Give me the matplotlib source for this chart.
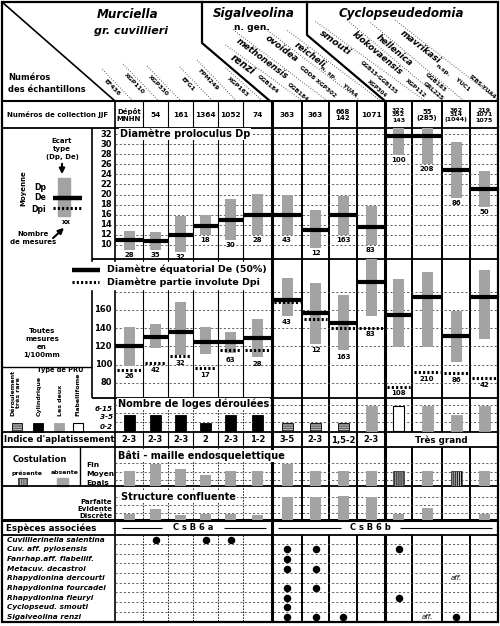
import matplotlib
matplotlib.use('Agg')
import matplotlib.pyplot as plt
from matplotlib.patches import Rectangle
import numpy as np

plt.rcParams['font.family'] = 'DejaVu Sans'
plt.rcParams['hatch.linewidth'] = 0.7

# ---------------- data ----------------
collections = ['Dépôt\nMNHN', '54', '161', '1364', '1052', '74', '363', '363',
               '668\n142', '1071', '322\n352\n143', '55\n(285)', '362\n314\n(1044)',
               '219\n1071\n1075']

# diamètre proloculus Dp (1/100 mm): moyenne, écart type, nombre de mesures
dp_mean = [10.9, 10.8, 12.0, 13.8, 15.0, 16.0, 16.0, 13.0, 16.0, 13.6, 31.6, 31.6, 24.9, 21.1]
dp_lo = [9.0, 9.0, 8.7, 12.0, 11.0, 12.0, 12.0, 9.4, 12.0, 10.0, 27.8, 26.0, 19.3, 17.5]
dp_hi = [12.7, 12.5, 15.8, 15.9, 19.1, 20.1, 19.9, 16.9, 19.7, 17.8, 34.0, 34.0, 30.4, 24.6]
dp_n = [28, 35, 32, 18, 30, 28, 43, 12, 163, 83, 100, 208, 86, 50]

# diamètre équatorial De et partie involute Dpi
de_mean = [120.3, 129.9, 136.0, 125.0, 125.0, 128.8, 170.9, 156.3, 145.3, 191.0, 154.4, 173.8, 131.3, 174.5]
de_lo = [98.4, 117.8, 110.4, 111.5, 112.3, 107.9, 153.3, 122.5, 115.9, 153.3, 118.9, 119.6, 102.4, 128.0]
de_hi = [141.2, 144.5, 168.4, 140.9, 136.0, 150.0, 195.4, 189.2, 176.4, 220.0, 193.6, 201.3, 159.1, 203.8]
dpi = [94.0, 101.3, 109.3, 95.8, 115.9, 115.9, 168.4, 149.7, 140.4, 140.4, 75.6, 91.4, 90.3, 84.8]
de_n = [26, 42, 32, 17, 63, 28, 43, 12, 163, 83, 108, 210, 86, 42]

# nombre de loges déroulées (1: 0-2, 2: 3-5, 3: 6-15) et type de PRU
loges_level = [2, 2, 2, 1, 2, 2, 1, 1, 1, 3, 3, 3, 2, 3]
pru_type = ['Cylindrique'] * 6 + ['Déroulement très rare'] * 3 + \
           ['Les deux', 'Flabelliforme', 'Les deux', 'Les deux', 'Les deux']

aplatissement = ['2-3', '2-3', '2-3', '2', '2-3', '1-2', '3-5', '2-3', '1,5-2', '2-3',
                 'Très grand', 'Très grand', 'Très grand', 'Très grand']

# bâti - maille endosquelettique (épaisseur) et costulation
bati = [2.0, 2.9, 2.3, 1.5, 2.0, 2.0, 2.9, 2.0, 2.0, 2.0, 2.0, 2.0, 2.0, 2.0]
costulation = ['absente'] * 10 + ['présente', 'absente', 'présente', 'absente']

# structure confluente
structure = [1.0, 1.8, 0.9, 1.0, 1.0, 0.9, 3.8, 3.8, 4.0, 3.8, 1.0, 2.0, 0.0, 1.0]

species = ['Cuvillierinella salentina', 'Cuv. aff. pylosensis', 'Fanrhap.aff. flabellif.',
           'Metacuv. decastroi', 'Rhapydionina dercourti', 'Rhapydionina fourcadei',
           'Rhapydionina fleuryi', 'Cyclopseud. smouti', 'Sigalveolina renzi']
presence = [[1, 3, 4], [6, 7, 10], [6], [6, 7], [], [6, 7], [6, 10], [6], [6, 7, 8, 12]]
affinis = [(4, 12), (8, 11)]

# ---------------- layout ----------------
W, H = 500, 626
edges = [115, 143, 168, 193, 218, 243, 272, 302, 329, 357, 385, 412, 442, 470, 498]
centers = [(a + b) / 2 for a, b in zip(edges[:-1], edges[1:])]
GRAY = '#a3a3a3'
BW = 11
GRID = dict(colors='#444444', linestyles=(0, (2.5, 2.5)), lw=0.6, zorder=1)
B = 'bold'

fig = plt.figure(figsize=(5, 6.26), dpi=100)
ax = fig.add_axes([0, 0, 1, 1])
ax.set_xlim(0, W)
ax.set_ylim(H, 0)
ax.axis('off')


def hl(y, x0, x1, lw=1.0, ls='-'):
    ax.plot([x0, x1], [y, y], color='k', lw=lw, ls=ls, solid_capstyle='butt')


def vl(x, y0, y1, lw=1.0, ls='-'):
    ax.plot([x, x], [y0, y1], color='k', lw=lw, ls=ls, solid_capstyle='butt')


def panel(top, bottom, vmin, vmax):
    a = fig.add_axes([0, 1 - bottom / H, 1, (bottom - top) / H])
    a.set_xlim(0, W)
    a.set_ylim(vmin, vmax)
    a.axis('off')
    return a


# frame and rows
ax.add_patch(Rectangle((2, 2), 496, 620, fill=False, lw=1.6, zorder=6))
for y, x0, lw in [(101, 2, 1.5), (128, 2, 1.3), (259, 92, 1.3), (398, 92, 1.3),
                  (432, 2, 1.3), (447, 2, 1.3), (486, 2, 1.3), (520, 2, 2.2), (535, 2, 1.3)]:
    hl(y, x0, 498, lw)
hl(367, 2, 92, 1.0)
vl(92, 128, 398, 1.2)
vl(115, 101, 622, 1.2)
vl(80, 447, 486, 1.0)
for x in edges[1:-1]:
    if x < 260:
        vl(x, 101, 398, 0.8)
        vl(x, 432, 447, 0.8)
        for y0, y1 in [(398, 432), (447, 520), (535, 622)]:
            vl(x, y0, y1, 0.6, (0, (2, 1.5)))
    else:
        lw = 2.2 if x in (272, 385) else 1.4
        vl(x, 101, 432, lw)
        vl(x, 447, 520, lw)
        vl(x, 535, 622, lw)
        if x <= 385:
            vl(x, 432, 447, lw)
        if x == 272:
            vl(x, 520, 535, lw)

# header
ax.plot([2, 115], [2, 101], color='k', lw=1.2)
ax.plot([202, 202, 270], [2, 43, 101], color='k', lw=1.6)
ax.plot([307, 307, 385], [2, 35, 101], color='k', lw=1.6)
ax.text(128, 15, 'Murciella', fontsize=8.6, fontweight=B, style='italic', ha='center', va='center')
ax.text(131, 31, 'gr. cuvillieri', fontsize=8.0, fontweight=B, style='italic', ha='center', va='center')
ax.text(254, 13, 'Sigalveolina', fontsize=8.6, fontweight=B, style='italic', ha='center', va='center')
ax.text(252, 27, 'n. gen.', fontsize=6.6, fontweight=B, ha='center', va='center')
ax.text(401, 13, 'Cyclopseudedomia', fontsize=8.6, fontweight=B, style='italic', ha='center', va='center')
ax.text(8, 77, 'Numéros', fontsize=6, fontweight=B, va='center')
ax.text(8, 90, 'des échantillons', fontsize=6, fontweight=B, va='center')

header_labels = [
    ('EF436', 112, 88, 46, 4.4, False, True), ('XGP110', 134, 84, 46, 4.4, False, True),
    ('XGP330', 158, 86, 46, 4.4, False, True), ('EFG1', 188, 84, 46, 4.4, False, True),
    ('FPM249', 208, 80, 46, 4.4, False, True), ('XGP163', 238, 87, 42, 4.4, False, True),
    ('renzi', 243, 65, 36, 7.0, True, True), ('GGB184', 268, 84, 40, 4.2, False, False),
    ('methonensis', 262, 59, 37, 6.2, True, True), ('GGB184', 298, 92, 40, 4.2, False, False),
    ('ovoidea', 282, 49, 37, 6.3, True, True), ('GDD8 XGP302', 318, 82, 40, 4.2, False, False),
    ('reicheli', 310, 55, 37, 6.3, True, True), ('n. sp.', 328, 73, 38, 4.4, False, False),
    ('YUA4', 350, 90, 40, 4.2, False, False),
    ('smouti', 335, 43, 36, 6.8, True, True), ('GGB13-GGB155', 379, 78, 41, 4.0, False, False),
    ('XGP304', 377, 89, 41, 4.0, False, False), ('klokovaensis', 377, 53, 40, 6.2, True, True),
    ('XGP112', 416, 88, 41, 4.2, False, False), ('hellenica', 394, 50, 40, 6.3, True, True),
    ('GGB183', 436, 82, 41, 4.2, False, False), ('GRL225', 433, 91, 41, 4.2, False, False),
    ('mavrikasi', 420, 47, 38, 6.4, True, True), ('n.sp.', 443, 70, 38, 4.4, False, False),
    ('YUC1', 463, 85, 41, 4.2, False, False), ('IZBS-YUA4', 482, 87, 41, 4.2, False, False),
]
for txt, x, y, ang, fs, ital, lead in header_labels:
    ax.text(x, y, txt, fontsize=fs, fontweight=B, style='italic' if ital else 'normal',
            rotation=-ang, rotation_mode='anchor', ha='center', va='center')
    if lead:
        th = np.radians(ang)
        d = np.array([np.cos(th), np.sin(th)])
        n = np.array([np.sin(th), -np.cos(th)])
        p = np.array([x, y]) + 6 * n
        half = len(txt) * fs * 0.45
        t_down = (100 - p[1]) / d[1]
        a0 = p - (half + 10) * d
        a1 = p + t_down * d
        ax.plot([a0[0], a1[0]], [a0[1], a1[1]], color='k', lw=0.8, ls=(0, (0.5, 1.8)))

# collection numbers row
ax.text(7, 115, 'Numéros de collection JJF', fontsize=5.0, fontweight=B, va='center')
for c, lab in zip(centers, collections):
    nl = lab.count('\n')
    ax.text(c, 115, lab, fontsize=[5.3, 5.0, 4.5][nl], fontweight=B, ha='center', va='center',
            linespacing=1.15 if nl < 2 else 1.0)

# legend of the upper charts
ax.text(62, 149, 'Ecart\ntype\n(Dp, De)', fontsize=5, fontweight=B, ha='center', va='center', linespacing=1.35)
ax.annotate('', xy=(62, 177), xytext=(62, 161),
            arrowprops=dict(arrowstyle='-|>', color='k', lw=1.5, mutation_scale=8))
ax.add_patch(Rectangle((58, 178), 12, 38, color=GRAY))
ax.plot([53, 82], [198, 198], color='k', lw=3.2, solid_capstyle='butt')
ax.plot([53, 82], [208, 208], color='k', lw=2.2, ls=(0, (0.7, 0.7)))
ax.text(23, 188, 'Moyenne', rotation=90, fontsize=5, fontweight=B, ha='center', va='center')
for y, t in [(188, 'Dp'), (198, 'De'), (209, 'Dpi')]:
    ax.text(46, y, t, fontsize=5.6, fontweight=B, ha='right', va='center')
ax.text(66, 222, 'xx', fontsize=5, fontweight=B, ha='center', va='center')
ax.annotate('', xy=(66, 226), xytext=(51, 240),
            arrowprops=dict(arrowstyle='-|>', color='k', lw=1.5, mutation_scale=8))
ax.text(33, 238, 'Nombre\nde mesures', fontsize=5, fontweight=B, ha='center', va='center', linespacing=1.4)
ax.text(42, 343, 'Toutes\nmesures\nen\n1/100mm', fontsize=5, fontweight=B, ha='center', va='center',
        linespacing=1.45)

# legend De / Dpi
ax.add_patch(Rectangle((66, 262), 200, 27, color='white', zorder=5))
ax.plot([72, 100], [270, 270], color='k', lw=3.2, solid_capstyle='butt', zorder=6)
ax.plot([72, 99], [282, 282], color='k', lw=2.2, ls=(0, (0.7, 0.7)), zorder=6)
ax.text(107, 269, 'Diamètre équatorial De (50%)', fontsize=6.8, fontweight=B, va='center', zorder=6)
ax.text(107, 282, 'Diamètre partie involute Dpi', fontsize=6.8, fontweight=B, va='center', zorder=6)

# type de PRU legend
ax.text(60, 370, 'Type de PRU', fontsize=4.8, fontweight=B, ha='center', va='center')
for x, t in [(16, 'Déroulement\ntrès rare'), (39, 'Cylindrique'), (60, 'Les deux'), (78, 'Flabellifome')]:
    ax.text(x, 416, t, rotation=90, fontsize=4.5, fontweight=B, ha='center', va='bottom', linespacing=1.1)
pru_style = {
    'Déroulement très rare': dict(facecolor='white', edgecolor='k', hatch='-' * 8, lw=0.6),
    'Cylindrique': dict(facecolor='k', edgecolor='k', lw=0.6),
    'Les deux': dict(facecolor=GRAY, edgecolor=GRAY, lw=0.6),
    'Flabelliforme': dict(facecolor='white', edgecolor='k', lw=0.8),
}
for x, k in zip([12, 33, 54, 73], ['Déroulement très rare', 'Cylindrique', 'Les deux', 'Flabelliforme']):
    ax.add_patch(Rectangle((x, 423), 10, 9, **pru_style[k]))

# costulation legend
ax.text(40, 460, 'Costulation', fontsize=6, fontweight=B, ha='center', va='center')
ax.text(27, 473, 'présente', fontsize=4.4, fontweight=B, ha='center', va='center')
ax.text(65, 473, 'absente', fontsize=4.4, fontweight=B, ha='center', va='center')
ax.add_patch(Rectangle((18, 478), 9, 8, facecolor='white', edgecolor='k', hatch='|' * 8, lw=0.5))
ax.add_patch(Rectangle((57, 478), 11, 8, color=GRAY))
for y, t in [(465, 'Fin'), (474, 'Moyen'), (483, 'Epais')]:
    ax.text(86, y, t, fontsize=5.4, fontweight=B, va='center')

# Indice d'aplatissement
ax.text(4, 440, "Indice d'aplatissement", fontsize=6.2, fontweight=B, va='center')
for c, v in zip(centers, aplatissement):
    if v != 'Très grand':
        ax.text(c, 440, v, fontsize=6, fontweight=B, ha='center', va='center')
big = [c for c, v in zip(centers, aplatissement) if v == 'Très grand']
ax.text(np.mean(big), 440, 'Très grand', fontsize=6.3, fontweight=B, ha='center', va='center')

# structure labels
for y, t in [(502, 'Parfaite'), (509, 'Evidente'), (516, 'Discrète')]:
    ax.text(112, y, t, fontsize=5, fontweight=B, ha='right', va='center')

# espèces associées header
ax.text(6, 528, 'Espèces associées', fontsize=6.3, fontweight=B, va='center')
ax.text(193, 528, 'C s B 6 a', fontsize=6, fontweight=B, ha='center', va='center')
ax.text(370, 528, 'C s B 6 b', fontsize=6, fontweight=B, ha='center', va='center')
for x0, x1 in [(122, 162), (224, 266), (278, 341), (400, 492)]:
    hl(528, x0, x1, 0.8)

# ---------- proloculus chart ----------
ap = panel(128, 259, 7.22, 33.19)
ap.hlines(np.arange(10, 33, 2), 115, 498, **GRID)
for v in range(10, 33, 2):
    ap.text(112, v, str(v), fontsize=6, fontweight=B, ha='right', va='center')
ap.bar(centers, np.subtract(dp_hi, dp_lo), bottom=dp_lo, width=BW, color=GRAY, zorder=2)
ap.hlines(dp_mean, edges[:-1], edges[1:], colors='k', lw=3.0, zorder=3)
for c, lo, n in zip(centers, dp_lo, dp_n):
    ap.annotate(str(n), (c, lo), xytext=(0, -1.5), textcoords='offset points',
                fontsize=5, fontweight=B, ha='center', va='top', zorder=4)
ap.text(120, 32, 'Diamètre proloculus Dp', fontsize=7, fontweight=B, va='center', zorder=5,
        bbox=dict(facecolor='white', edgecolor='none', pad=0.6))

# ---------- equatorial chart ----------
ae = panel(259, 398, 63.2, 215.9)
ae.hlines(np.arange(80, 181, 20), 115, 498, **GRID)
for v in range(80, 161, 20):
    ae.text(112, v, str(v), fontsize=6, fontweight=B, ha='right', va='center')
ae.bar(centers, np.subtract(de_hi, de_lo), bottom=de_lo, width=BW, color=GRAY, zorder=2)
ae.hlines(de_mean, edges[:-1], edges[1:], colors='k', lw=3.0, zorder=3)
ae.hlines(dpi, np.add(edges[:-1], 2), np.subtract(edges[1:], 2), colors='k', lw=2.2,
          linestyles=(0, (0.7, 0.7)), zorder=3)
for c, lo, p, n in zip(centers, de_lo, dpi, de_n):
    ae.annotate(str(n), (c, min(lo, p)), xytext=(0, -2.5), textcoords='offset points',
                fontsize=5, fontweight=B, ha='center', va='top', zorder=4)

# ---------- nombre de loges déroulées ----------
al = panel(398, 432, -0.1, 4.03)
al.hlines([1.15, 2.25, 3.2], 115, 498, **GRID)
for v, t in [(0.55, '0-2'), (1.7, '3-5'), (2.75, '6-15')]:
    al.text(113, v, t, fontsize=5.2, fontweight=B, style='italic', ha='right', va='center')
for c, lev, k in zip(centers, loges_level, pru_type):
    al.bar(c, lev, width=BW, zorder=2, **pru_style[k])
al.text(118, 3.3, 'Nombre de loges déroulées', fontsize=7, fontweight=B, va='center', zorder=5,
        bbox=dict(facecolor='white', edgecolor='none', pad=0.6))

# ---------- bâti - maille endosquelettique ----------
ab = panel(447, 486, 0, 5.2)
ab.hlines([0.8, 1.9, 3.1], 115, 498, **GRID)
for c, v, cos in zip(centers, bati, costulation):
    if cos == 'présente':
        ab.bar(c, v, width=BW, facecolor='#c8c8c8', edgecolor='k', hatch='|' * 8, lw=0.4, zorder=2)
    else:
        ab.bar(c, v, width=BW, color=GRAY, zorder=2)
ab.text(118, 4.05, 'Bâti - maille endosquelettique', fontsize=7, fontweight=B, va='center', zorder=5,
        bbox=dict(facecolor='white', edgecolor='none', pad=0.6))

# ---------- structure confluente ----------
asf = panel(486, 520, 0, 5.67)
asf.hlines([1.17, 2.42, 3.83], 115, 498, **GRID)
asf.bar(centers, structure, width=BW, color=GRAY, zorder=2)
asf.text(121, 3.85, 'Structure confluente', fontsize=7, fontweight=B, va='center', zorder=5,
         bbox=dict(facecolor='white', edgecolor='none', pad=0.6))

# ---------- espèces associées ----------
asp = panel(535, 622, 8.505, -0.464)
asp.hlines(np.arange(len(species) - 1) + 0.45, 115, 498, **GRID)
for i, name in enumerate(species):
    asp.text(7, i, name, fontsize=5.3, fontweight=B, style='italic', va='center')
    cols = presence[i]
    asp.plot([centers[j] for j in cols], [i] * len(cols), 'o', color='k', ms=4.4, zorder=3)
for i, j in affinis:
    asp.text(centers[j], i, 'aff.', fontsize=5, style='italic', ha='center', va='center')

fig.savefig('out.png', dpi=100)
